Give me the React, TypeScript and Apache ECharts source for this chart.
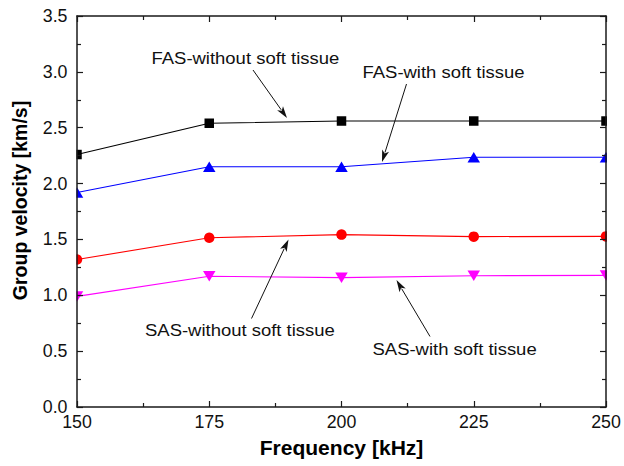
import React, { useEffect, useRef } from "react";
import * as echarts from "echarts";

const frequencies = [150, 175, 200, 225, 250];
const fasWithout = [2.26, 2.54, 2.56, 2.56, 2.56];
const fasWith = [1.92, 2.15, 2.15, 2.235, 2.235];
const sasWithout = [1.32, 1.515, 1.543, 1.525, 1.527];
const sasWith = [0.99, 1.17, 1.158, 1.175, 1.178];

const xTicks = { min: 150, max: 250, interval: 25 };
const yTicks = { min: 0, max: 3.5, interval: 0.5 };

const annotations = [
  { text: "FAS-without soft tissue", x: 151.5, y: 58.5, from: [253, 70], to: [287, 118] },
  { text: "FAS-with soft tissue", x: 362.5, y: 72.5, from: [406.5, 84], to: [382, 162] },
  { text: "SAS-without soft tissue", x: 145, y: 330, from: [251.5, 318.5], to: [288.5, 239.5] },
  { text: "SAS-with soft tissue", x: 372.5, y: 349.5, from: [430, 336.5], to: [396.5, 280] },
];

const FONT = "Liberation Sans, Arial, sans-serif";
const AXIS_COLOR = "#1a1a1a";

function arrowGraphics(from: number[], to: number[]) {
  const dx = to[0] - from[0];
  const dy = to[1] - from[1];
  const len = Math.sqrt(dx * dx + dy * dy);
  const ux = dx / len;
  const uy = dy / len;
  const headLen = 12;
  const headW = 3.6;
  const bx = to[0] - ux * headLen;
  const by = to[1] - uy * headLen;
  const px = -uy;
  const py = ux;
  return [
    {
      type: "line",
      z: 20,
      shape: { x1: from[0], y1: from[1], x2: bx + ux * 2, y2: by + uy * 2 },
      style: { stroke: "#111", lineWidth: 1 },
    },
    {
      type: "polygon",
      z: 20,
      shape: {
        points: [
          [to[0], to[1]],
          [bx + px * headW, by + py * headW],
          [bx + ux * 3, by + uy * 3],
          [bx - px * headW, by - py * headW],
        ],
      },
      style: { fill: "#111" },
    },
  ];
}

function makeSeries(name: string, values: number[], color: string, symbol: string, size: any, rotate = 0) {
  return {
    name,
    type: "line",
    data: frequencies.map((f, i) => [f, values[i]]),
    symbol,
    symbolSize: size,
    symbolRotate: rotate,
    showSymbol: true,
    clip: false,
    lineStyle: { color, width: 1.1 },
    itemStyle: { color, borderWidth: 0 },
    z: 2,
  };
}

export default function App() {
  const ref = useRef<HTMLDivElement>(null);
  useEffect(() => {
    if (!ref.current) return;
    const chart = echarts.init(ref.current, null, { renderer: "svg" });
    const axisLine = { show: true, onZero: false, lineStyle: { color: AXIS_COLOR, width: 1.5 } };
    const tick = { show: true, inside: true, length: 6, lineStyle: { color: AXIS_COLOR, width: 1.2 } };
    const minor = (n: number) => ({ show: true, splitNumber: n, length: 4, lineStyle: { color: AXIS_COLOR, width: 1.2 } });
    const graphics: any[] = [
      { type: "rect", z: 5, shape: { x: 68, y: 10, width: 8.5, height: 400 }, style: { fill: "#fff" } },
      { type: "rect", z: 5, shape: { x: 607, y: 10, width: 17, height: 400 }, style: { fill: "#fff" } },
      {
        type: "text",
        z: 20,
        x: 341.5,
        y: 448.5,
        scaleX: 1.08,
        style: { text: "Frequency [kHz]", font: `bold 19.5px ${FONT}`, fill: "#000", textAlign: "center", textVerticalAlign: "middle" },
      },
      {
        type: "text",
        z: 20,
        x: 19.5,
        y: 200.5,
        rotation: Math.PI / 2,
        style: { text: "Group velocity [km/s]", font: `bold 19.5px ${FONT}`, fill: "#000", textAlign: "center", textVerticalAlign: "middle" },
      },
    ];
    annotations.forEach((a) => {
      graphics.push({
        type: "text",
        z: 20,
        x: a.x,
        y: a.y,
        scaleX: 1.1,
        style: { text: a.text, font: `16.8px ${FONT}`, fill: "#111", textAlign: "left", textVerticalAlign: "middle" },
      });
      graphics.push(...arrowGraphics(a.from, a.to));
    });

    chart.setOption({
      animation: false,
      backgroundColor: "#fff",
      grid: { left: 77, right: 18, top: 16, bottom: 59, containLabel: false, outerBoundsMode: "none" },
      xAxis: [
        {
          type: "value",
          position: "bottom",
          ...xTicks,
          z: 10,
          axisLine,
          axisTick: tick,
          minorTick: minor(2),
          splitLine: { show: false },
          minorSplitLine: { show: false },
          axisLabel: { fontSize: 17.8, fontFamily: FONT, color: "#111", margin: 6, showMinLabel: true, showMaxLabel: true, hideOverlap: false },
        },
        {
          type: "value",
          position: "top",
          ...xTicks,
          z: 10,
          axisLine,
          axisTick: tick,
          minorTick: minor(2),
          splitLine: { show: false },
          axisLabel: { show: false },
        },
      ],
      yAxis: [
        {
          type: "value",
          position: "left",
          ...yTicks,
          z: 10,
          axisLine,
          axisTick: tick,
          minorTick: minor(2),
          splitLine: { show: false },
          minorSplitLine: { show: false },
          axisLabel: {
            fontSize: 17.8,
            fontFamily: FONT,
            color: "#111",
            margin: 9.5,
            showMinLabel: true,
            showMaxLabel: true,
            hideOverlap: false,
            formatter: (v: number) => v.toFixed(1),
          },
        },
        {
          type: "value",
          position: "right",
          ...yTicks,
          z: 10,
          axisLine,
          axisTick: tick,
          minorTick: minor(2),
          splitLine: { show: false },
          axisLabel: { show: false },
        },
      ],
      series: [
        makeSeries("FAS-without soft tissue", fasWithout, "#000000", "rect", 9.5),
        makeSeries("FAS-with soft tissue", fasWith, "#0000ff", "triangle", [12.5, 10.5]),
        makeSeries("SAS-without soft tissue", sasWithout, "#ff0000", "circle", 10.5),
        makeSeries("SAS-with soft tissue", sasWith, "#ff00ff", "triangle", [12.5, 10.5], 180),
      ],
      graphic: { elements: graphics },
    });
    return () => chart.dispose();
  }, []);
  return <div ref={ref} style={{ position: "absolute", left: 0, top: 0, width: 624, height: 466 }} />;
}
